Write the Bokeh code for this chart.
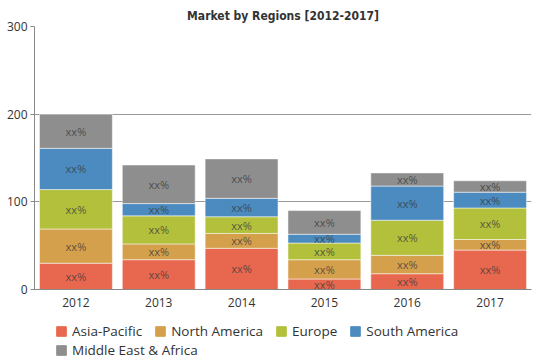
from bokeh.plotting import figure
from bokeh.layouts import column
from bokeh.models import ColumnDataSource, Range1d, FactorRange, FixedTicker, Legend, LegendItem, LabelSet, Title
from bokeh.core.properties import value
from bokeh.embed import file_html
from bokeh.resources import INLINE

years = ["2012", "2013", "2014", "2015", "2016", "2017"]
regions = ["Asia-Pacific", "North America", "Europe", "South America", "Middle East & Africa"]
asia_pacific = [30, 34, 47, 12, 18, 45]
north_america = [39, 18, 17, 22, 21, 12]
europe = [45, 32, 19, 19, 40, 36]
south_america = [47, 14, 21, 10, 39, 18]
middle_east_africa = [39, 44, 45, 27, 15, 13]
colors = ["#e8684f", "#d4a04c", "#b3c03c", "#4b8bbf", "#8e8e8e"]
y_ticks = [0, 100, 200, 300]
label_text = "xx%"

series = [asia_pacific, north_america, europe, south_america, middle_east_africa]

p = figure(width=539, height=309, output_backend="svg", toolbar_location=None,
           x_range=FactorRange(*years, range_padding=0), y_range=Range1d(0, 300),
           min_border_left=34, min_border_right=8, min_border_top=26, min_border_bottom=20)
p.add_layout(Title(text="Market by Regions [2012-2017]", align="center",
                   text_font="DejaVu Sans Condensed", text_font_size="12px",
                   text_font_style="bold", text_color="#333333",
                   standoff=8), "above")

src = {"year": years}
keys = []
for i, s in enumerate(series):
    k = "s%d" % i
    src[k] = s
    keys.append(k)
source = ColumnDataSource(src)

p.vbar_stack(keys, x="year", width=0.88, source=source, color=colors,
             line_color="white", line_width=1, line_alpha=0.5)

bottoms = [0] * len(years)
for i, s in enumerate(series):
    mids = [b + v / 2 for b, v in zip(bottoms, s)]
    ls = ColumnDataSource(dict(x=years, y=mids, t=[label_text] * len(years)))
    p.add_layout(LabelSet(x="x", y="y", text="t", source=ls, text_align="center",
                          text_baseline="middle", text_font=value("Open Sans"),
                          text_font_size="11px", text_color="#3a3a3a", text_alpha=0.8))
    bottoms = [b + v for b, v in zip(bottoms, s)]

p.yaxis.ticker = FixedTicker(ticks=y_ticks)
p.ygrid.ticker = FixedTicker(ticks=y_ticks)
p.xgrid.grid_line_color = None
p.ygrid.grid_line_color = "#9a9a9a"
p.outline_line_color = None

for ax in (p.xaxis, p.yaxis):
    ax.axis_line_color = "#888888"
    ax.major_label_text_font = "Open Sans"
    ax.major_label_text_font_size = "12px"
    ax.major_label_text_color = "#333333"
    ax.minor_tick_line_color = None
p.yaxis.major_tick_in = 0
p.yaxis.major_tick_out = 4
p.yaxis.major_tick_line_color = "#888888"
p.yaxis.major_label_standoff = 3
p.xaxis.major_tick_line_color = None
p.xaxis.major_label_standoff = 2

# legend figure below the chart (its frame is aligned with the chart's frame)
lf = figure(width=539, height=50, output_backend="svg", toolbar_location=None,
            x_range=Range1d(0, 1), y_range=Range1d(0, 1),
            min_border_left=0, min_border_right=0, min_border_top=0, min_border_bottom=0)
lf.axis.visible = False
lf.grid.visible = False
lf.outline_line_color = None
offscreen = ColumnDataSource(dict(x=[-10.0], top=[-10.0]))
lrs = [lf.vbar(x="x", top="top", width=0.1, source=offscreen, color=c) for c in colors]

items1 = [LegendItem(label=regions[i], renderers=[lrs[i]]) for i in range(4)]
items2 = [LegendItem(label=regions[4], renderers=[lrs[4]])]
for items, loc in ((items1, (21, 19)), (items2, (21, 0))):
    lg = Legend(items=items, orientation="horizontal", location=loc,
                label_text_font="Open Sans", label_text_font_size="13.5px",
                label_text_color="#333333", glyph_width=12, glyph_height=12,
                label_standoff=5, spacing=12, padding=0, margin=0,
                border_line_color=None, background_fill_alpha=0,
                label_height=14)
    lf.add_layout(lg)

layout = column(p, lf, spacing=0)
open("out.html", "w").write(file_html(layout, INLINE))
